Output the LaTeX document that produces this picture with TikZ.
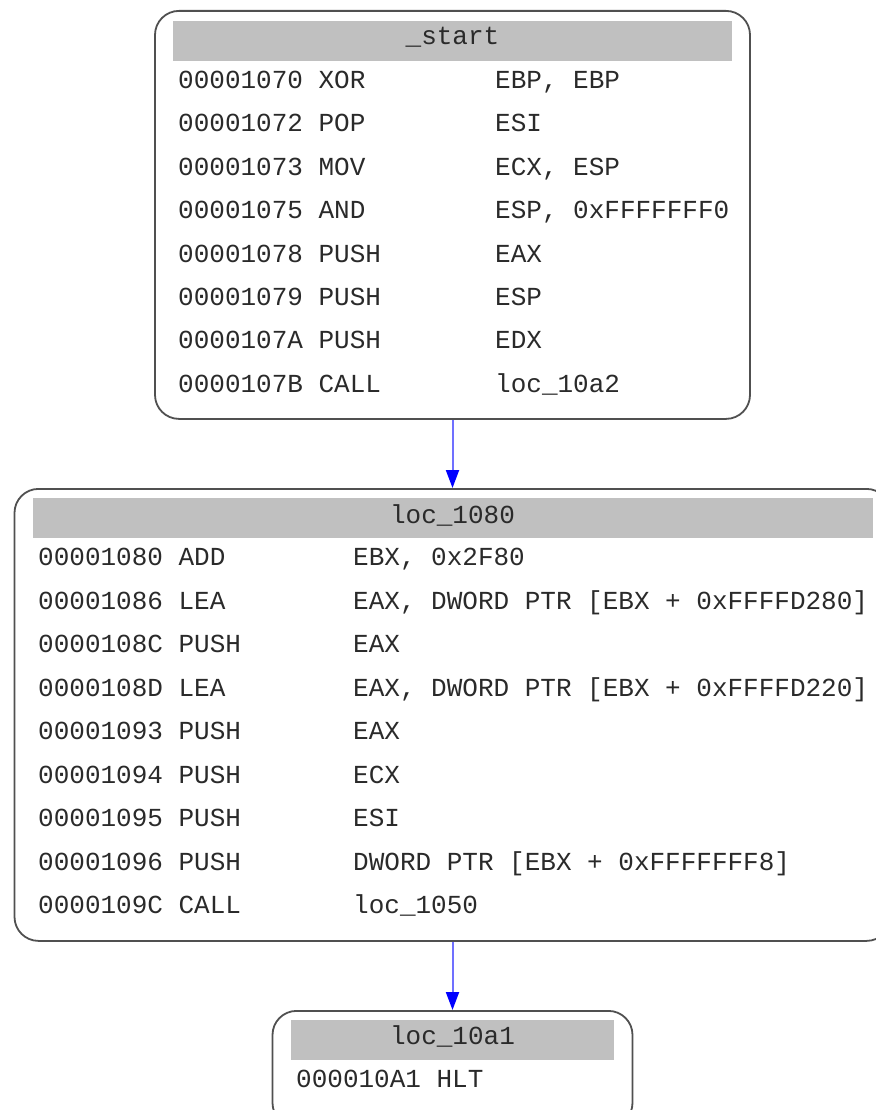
\documentclass[tikz,border=0pt]{standalone}
\usepackage{fontspec}
\setmonofont{Liberation Mono}
\usetikzlibrary{arrows.meta}
\definecolor{frame}{HTML}{505050}
\definecolor{headgray}{HTML}{C0C0C0}
\definecolor{ink}{HTML}{2A2A2A}
\definecolor{edgeblue}{HTML}{7070FF}
\begin{document}
\begin{tikzpicture}[x=1pt,y=-1pt,
  block/.style={draw=frame, line width=1.8pt, rounded corners=24pt,
    inner sep=0pt, anchor=north},
  asm/.style={inner sep=0pt, text=ink, font=\ttfamily\fontsize{26}{31}\selectfont},
  flow/.style={draw=edgeblue, line width=2pt,
    -{Triangle[length=18pt,width=13pt,color=blue,fill=blue]}}]
\useasboundingbox (0,0) rectangle (875,1110);

% ---- block _start ----
\node[block, minimum width=595pt, minimum height=408pt] (start) at (452.5,10) {};
\fill[headgray] (173,21) rectangle (732,61);
\node[asm, anchor=base] (startT) at (452.5,45) {\_start};
\foreach \a/\b [count=\i from 0] in
  {{00001070 XOR}/{EBP, EBP},
   {00001072 POP}/{ESI},
   {00001073 MOV}/{ECX, ESP},
   {00001075 AND}/{ESP, 0xFFFFFFF0},
   {00001078 PUSH}/{EAX},
   {00001079 PUSH}/{ESP},
   {0000107A PUSH}/{EDX},
   {0000107B CALL}/{loc\_10a2}}
{
  \node[asm, anchor=base west] (sa\i) at (178,{88.5+43.4*\i}) {\a};
  \node[asm, anchor=base west] (sb\i) at (495,{88.5+43.4*\i}) {\b};
}

% ---- block loc_1080 ----
\node[block, minimum width=876pt, minimum height=452pt] (blk1080) at (452.5,488) {};
\fill[headgray] (32.5,498) rectangle (872.5,538);
\node[asm, anchor=base] (blk1080T) at (452.5,523) {loc\_1080};
\foreach \a/\b [count=\i from 0] in
  {{00001080 ADD}/{EBX, 0x2F80},
   {00001086 LEA}/{EAX, DWORD PTR [EBX + 0xFFFFD280]},
   {0000108C PUSH}/{EAX},
   {0000108D LEA}/{EAX, DWORD PTR [EBX + 0xFFFFD220]},
   {00001093 PUSH}/{EAX},
   {00001094 PUSH}/{ECX},
   {00001095 PUSH}/{ESI},
   {00001096 PUSH}/{DWORD PTR [EBX + 0xFFFFFFF8]},
   {0000109C CALL}/{loc\_1050}}
{
  \node[asm, anchor=base west] (la\i) at (38,{565.5+43.5*\i}) {\a};
  \node[asm, anchor=base west] (lb\i) at (353,{565.5+43.5*\i}) {\b};
}

% ---- block loc_10a1 ----
\node[block, minimum width=360pt, minimum height=116pt] (blk10a1) at (452.5,1010) {};
\fill[headgray] (291,1020) rectangle (614,1060);
\node[asm, anchor=base] (blk10a1T) at (452.5,1044) {loc\_10a1};
\node[asm, anchor=base west] (hlt) at (296,1087) {000010A1 HLT};

% ---- control flow ----
\draw[flow] (start.south) -- (blk1080.north);
\draw[flow] (blk1080.south) -- (blk10a1.north);
\end{tikzpicture}
\end{document}
